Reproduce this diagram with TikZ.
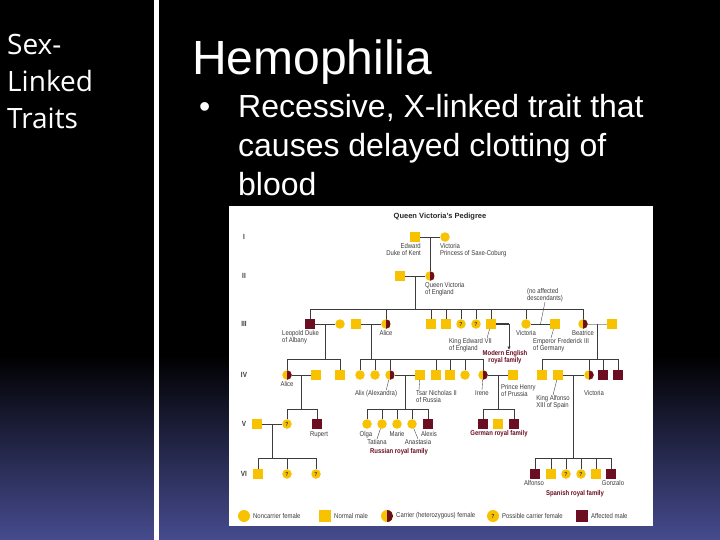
\documentclass[tikz,border=0pt]{standalone}
\usepackage{fontspec}
\setmainfont{Liberation Sans}
\newfontfamily\sidefont{Open Sans}
\newfontfamily\pedfont[FakeStretch=0.85]{Liberation Sans}
\usetikzlibrary{arrows.meta,calc,positioning}
\definecolor{SlideBlue}{HTML}{464B8E}
\definecolor{PedGold}{HTML}{F9C200}
\definecolor{PedRed}{HTML}{6B0E22}
\definecolor{PedLine}{HTML}{3C3C3C}
\definecolor{PedText}{HTML}{3A3A3A}

\tikzset{
  ped/.style={inner sep=0pt,outer sep=0pt,minimum size=10pt},
  fem/.style={ped,circle,fill=PedGold,minimum size=9.5pt},
  mal/.style={ped,rectangle,fill=PedGold},
  aff/.style={ped,rectangle,fill=PedRed},
  carr/.style={fem,path picture={\fill[PedRed] (path picture bounding box.north) rectangle (path picture bounding box.south east);}},
  poss/.style={fem,label={[inner sep=0pt,text=PedText,font=\pedfont\bfseries\fontsize{6}{6}\selectfont]center:?}},
  kin/.style={draw=PedLine,line width=1pt},
  lead/.style={draw=PedText,line width=0.35pt},
  lbl/.style={inner sep=0pt,text=PedText,align=left,font=\pedfont\fontsize{7}{7}\selectfont},
  fam/.style={inner sep=0pt,text=PedRed,align=center,font=\pedfont\bfseries\fontsize{7}{7}\selectfont},
  gen/.style={inner sep=0pt,text=PedText,font=\pedfont\bfseries\fontsize{7.5}{7.5}\selectfont},
  side/.style={anchor=base west,inner sep=0pt,text=white,font=\sidefont\fontsize{28}{28}\selectfont},
  slide/.style={anchor=base west,inner sep=0pt,text=white,font=\fontsize{32}{32}\selectfont},
}

\begin{document}
\begin{tikzpicture}[x=1pt,y=-1pt]
\useasboundingbox (0,0) rectangle (720,540);
% slide background
\fill[black] (0,0) rectangle (720,540);
\shade[top color=black,bottom color=SlideBlue] (0,355) rectangle (720,540);
\fill[white] (153.5,0) rectangle (158.5,540);
\foreach \w/\y in {Sex-/55,Linked/92,Traits/129}
  \node[side] (side\y) at (7,\y) {\w};
\node[anchor=base west,inner sep=0pt,text=white,font=\fontsize{48}{48}\selectfont] (title) at (192,75) {Hemophilia};
\node[slide] (dot) at (199,118) {•};
\node[slide] (line1) at (238,118) {Recessive, X-linked trait that};
\node[slide] (line2) at (238,157) {causes delayed clotting of};
\node[slide] (line3) at (238,196) {blood};

% pedigree panel
\fill[white] (229,206) rectangle (653,526);
\node[font=\bfseries\fontsize{7.5}{8}\selectfont,text=black!85] (pedtitle) at (440,217) {Queen Victoria's Pedigree};
\foreach \g/\y in {I/237,II/276,III/324,IV/375,V/424,VI/474}
  \node[gen] (g\g) at (244,\y) {\g};

% sibship rows
\coordinate (sib3) at (0,309);
\coordinate (sib4) at (0,359);
\coordinate (sib5) at (0,409);
\coordinate (sib6) at (0,458);

% generations I and II
\node[mal] (kent) at (415,237) {};
\node[fem] (saxe) at (445,237) {};
\node[mal] (albert) at (400,276) {};
\node[carr] (qv) at (430,276) {};
\draw[kin] (kent) -- (saxe);
\draw[kin] ($(kent)!0.5!(saxe)$) -- (qv);
\draw[kin] (albert) -- (qv);
\coordinate (m2) at ($(albert)!0.5!(qv)$);
\draw[kin] (m2) -- (m2 |- sib3);

% generation III
\foreach \n/\s/\x in {leo/aff/310,leow/fem/340,alhus/mal/356,alice/carr/386,c3/mal/431,c4/mal/446,c5/poss/461,c6/poss/476,edw/mal/491,vicr/fem/526,fred/mal/555,bea/carr/583,beah/mal/612}
  \node[\s] (\n) at (\x,324) {};
\draw[kin] (leo |- sib3) -- (bea |- sib3);
\foreach \c in {leo,alice,c3,c4,c5,c6,edw,vicr,bea}
  \draw[kin] (\c) -- (\c |- sib3);
\draw[kin] (leo) -- (leow);
\draw[kin] (alhus) -- (alice);
\draw[kin] (vicr) -- (fred);
\draw[kin,draw=gray!70] (bea) -- (beah);
\node[fam] (modern) at (505,357) {Modern English\\royal family};
\coordinate (edwr) at (509,324);
\draw[kin,line width=1.8pt] (edw) -- (edwr);
\draw[kin,-{Latex[length=3.5pt,width=3.5pt]}] (edwr) -- (edwr |- modern.north);

% generation IV
\foreach \n/\s/\x in {lalice/carr/287,lahus/mal/316,lson/mal/340,a1/fem/360,a2/fem/375,alix/carr/390,nich/mal/420,a4/mal/436,a5/mal/450,a6/fem/465,irene/carr/483,henry/mal/513,b1/mal/542,alf/mal/558,ena/carr/589,b3/aff/603,b4/aff/618}
  \node[\s] (\n) at (\x,375) {};
\coordinate (m3a) at ($(leo)!0.5!(leow)$);
\coordinate (m3b) at ($(alhus)!0.5!(alice)$);
\coordinate (m3c) at ($(bea)!0.5!(beah)$);
\foreach \m in {m3a,m3b,m3c}
  \draw[kin] (\m) -- (\m |- sib4);
\draw[kin] (lalice |- sib4) -- (lson |- sib4);
\draw[kin] (a1 |- sib4) -- (irene |- sib4);
\draw[kin] (b1 |- sib4) -- (b4 |- sib4);
\foreach \c in {lalice,lson,a1,a2,alix,a4,a5,a6,irene,b1,ena,b3,b4}
  \draw[kin] (\c) -- (\c |- sib4);
\draw[kin] (lalice) -- (lahus);
\draw[kin] (alix) -- (nich);
\draw[kin] (irene) -- (henry);
\draw[kin] (alf) -- (ena);

% generation V
\foreach \n/\s/\x in {vhus/mal/257,v1/poss/287,rupert/aff/317,olga/fem/367,tat/fem/382,marie/fem/397,anas/fem/412,alexis/aff/428,g1/aff/483,g2/mal/498,g3/aff/514}
  \node[\s] (\n) at (\x,424) {};
\coordinate (m4a) at ($(lalice)!0.5!(lahus)$);
\coordinate (m4b) at ($(alix)!0.5!(nich)$);
\coordinate (m4c) at ($(irene)!0.5!(henry)$);
\foreach \m in {m4a,m4b,m4c}
  \draw[kin] (\m) -- (\m |- sib5);
\draw[kin] (v1 |- sib5) -- (rupert |- sib5);
\draw[kin] (olga |- sib5) -- (alexis |- sib5);
\draw[kin] (g1 |- sib5) -- (g3 |- sib5);
\foreach \c in {v1,rupert,olga,tat,marie,anas,alexis,g1,g3}
  \draw[kin] (\c) -- (\c |- sib5);
\draw[kin] (vhus) -- (v1);

% generation VI
\foreach \n/\s/\x in {w1/mal/258,w2/poss/287,w3/poss/316,s1/aff/535,s2/mal/551,s3/poss/566,s4/poss/581,s5/mal/596,s6/aff/611}
  \node[\s] (\n) at (\x,474) {};
\coordinate (m5a) at ($(vhus)!0.5!(v1)$);
\coordinate (m4d) at ($(alf)!0.5!(ena)$);
\foreach \m in {m5a,m4d}
  \draw[kin] (\m) -- (\m |- sib6);
\draw[kin] (w1 |- sib6) -- (w3 |- sib6);
\draw[kin] (s1 |- sib6) -- (s6 |- sib6);
\foreach \c in {w1,w2,w3,s1,s2,s3,s4,s5,s6}
  \draw[kin] (\c) -- (\c |- sib6);

% names
\node[lbl,align=right,anchor=north east] (kentl) at (421,243) {Edward\\Duke of Kent};
\node[lbl,anchor=north west] (saxel) at (440,243) {Victoria\\Princess of Saxe-Coburg};
\node[lbl,anchor=north west] (qvl) at (425,282) {Queen Victoria\\of England};
\node[lbl] (noaff) at (545,295) {(no affected\\descendants)};
\draw[lead] (noaff.south) -- ($(vicr)!0.5!(fred)$);
\node[lbl,anchor=north west] (leol) at (282,330) {Leopold Duke\\of Albany};
\node[lbl,anchor=north] (alicel) at (386,330) {Alice};
\node[lbl,anchor=north west] (edwl) at (449,338) {King Edward VII\\of England};
\draw[lead] (edw) -- ([xshift=-5pt]edwl.north east);
\node[lbl,anchor=north] (vicrl) at (526,330) {Victoria};
\node[lbl,anchor=north west] (fredl) at (533,338) {Emperor Frederick III\\of Germany};
\draw[lead] (fred) -- ([xshift=18pt]fredl.north west);
\node[lbl,anchor=north] (beal) at (583,330) {Beatrice};
\node[lbl,anchor=north] (lalicel) at (287,381) {Alice};
\node[lbl,anchor=north] (alixl) at (376,390) {Alix (Alexandra)};
\draw[lead] (alix) -- ([xshift=-11pt]alixl.north east);
\node[lbl,anchor=north west] (nichl) at (416,390) {Tsar Nicholas II\\of Russia};
\draw[lead] (nich) -- ([xshift=3pt]nichl.north west);
\node[lbl,anchor=north] (irenel) at (482,390) {Irene};
\draw[lead] (irene) -- (irenel.north);
\node[lbl,anchor=north west] (henryl) at (501,384) {Prince Henry\\of Prussia};
\node[lbl,anchor=north] (alfl) at (553,395) {King Alfonso\\XIII of Spain};
\draw[lead] (alf) -- (alfl.north);
\node[lbl,anchor=north] (enal) at (594,390) {Victoria};
\node[lbl,anchor=north] (rupertl) at (319,431) {Rupert};
\node[lbl,anchor=north] (olgal) at (366,431) {Olga};
\node[lbl,anchor=north] (tatl) at (377,439) {Tatiana};
\draw[lead] (tat) -- (tatl.north);
\node[lbl,anchor=north] (mariel) at (397,431) {Marie};
\node[lbl,anchor=north] (anasl) at (418,439) {Anastasia};
\draw[lead] (anas) -- (anasl.north);
\node[lbl,anchor=north] (alexisl) at (429,431) {Alexis};
\node[fam] (russia) at (399,452) {Russian royal family};
\node[fam] (german) at (499,434) {German royal family};
\node[lbl,anchor=north] (s1l) at (534,480) {Alfonso};
\node[lbl,anchor=north] (s6l) at (613,480) {Gonzalo};
\node[fam] (spain) at (575,494) {Spanish royal family};

% key
\node[fem,minimum size=12pt] (k1) at (244,516) {};
\node[lbl,right=3pt of k1] (k1l) {Noncarrier female};
\node[mal,minimum size=12pt] (k2) at (325,516) {};
\node[lbl,right=3pt of k2] (k2l) {Normal male};
\node[carr,minimum size=12pt] (k3) at (387,516) {};
\node[lbl,right=3pt of k3] (k3l) {Carrier (heterozygous) female};
\node[poss,minimum size=12pt] (k4) at (493,516) {};
\node[lbl,right=3pt of k4] (k4l) {Possible carrier female};
\node[aff,minimum size=12pt] (k5) at (582,516) {};
\node[lbl,right=3pt of k5] (k5l) {Affected male};
\end{tikzpicture}
\end{document}
